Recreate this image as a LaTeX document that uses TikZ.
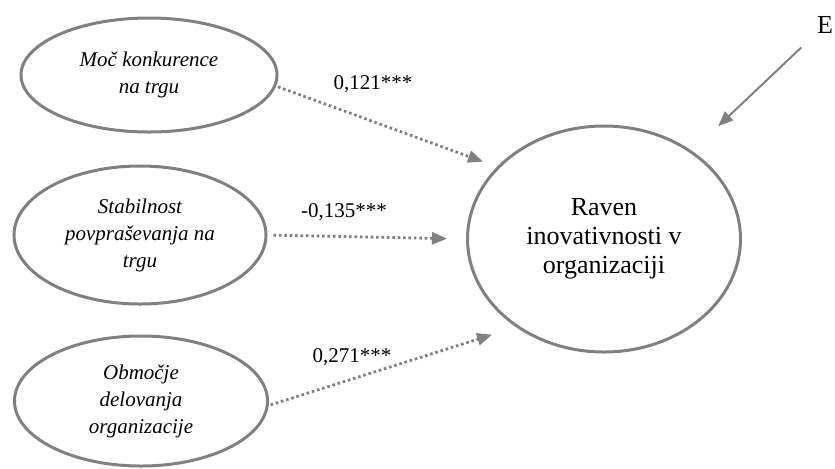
\documentclass[tikz,border=0pt]{standalone}
\usepackage{fontspec}
\setmainfont{Liberation Serif}
\usepackage{tikz}
\usetikzlibrary{arrows.meta, shapes.geometric, positioning}

\begin{document}
\begin{tikzpicture}[x=0.5pt, y=-0.5pt,
    factor/.style={ellipse, draw=gray, line width=1.5pt, inner sep=0pt, align=center,
        font=\fontsize{10.5}{13.5}\selectfont\itshape},
    effect/.style={draw=gray, line width=1.4pt, dash pattern=on 1.3pt off 1.4pt,
        -{Triangle[length=7.5pt, width=6pt]}},
    coef/.style={font=\fontsize{10.5}{12}\selectfont, inner sep=1pt}]
\useasboundingbox (0,0) rectangle (835,468);
\node[factor, minimum width=128pt, minimum height=57pt] (moc) at (149,75) {Moč konkurence\\na trgu};
\node[factor, minimum width=126pt, minimum height=69pt] (stab) at (140,235) {Stabilnost\\povpraševanja na\\trgu};
\node[factor, minimum width=126.5pt, minimum height=65pt] (obm) at (141,401) {Območje\\delovanja\\organizacije};
\node[ellipse, draw=gray, line width=1.5pt, inner sep=0pt, align=center,
    minimum width=136.5pt, minimum height=113pt,
    font=\fontsize{13}{14.5}\selectfont] (raven) at (604,239) {Raven\\inovativnosti v\\organizaciji};
\node[font=\fontsize{13}{14.5}\selectfont] (e) at (825,25) {E};
\node[coef] (b1) at (373,84) {0,121***};
\node[coef] (b2) at (344,212) {-0,135***};
\node[coef] (b3) at (352,357) {0,271***};
\draw[effect, shorten <=1pt, shorten >=7.4pt] (moc.-5) -- (raven.146.5);
\draw[effect, shorten <=3pt, shorten >=9.5pt] (stab.east) -- (raven.180);
\draw[effect, shorten <=1pt, shorten >=12.5pt] (obm.-2) -- (raven.225.6);
\draw[draw=gray, line width=1pt, shorten <=6pt, shorten >=18pt,
    -{Triangle[length=7.5pt, width=6pt]}] (e) -- (raven.45);
\end{tikzpicture}
\end{document}
